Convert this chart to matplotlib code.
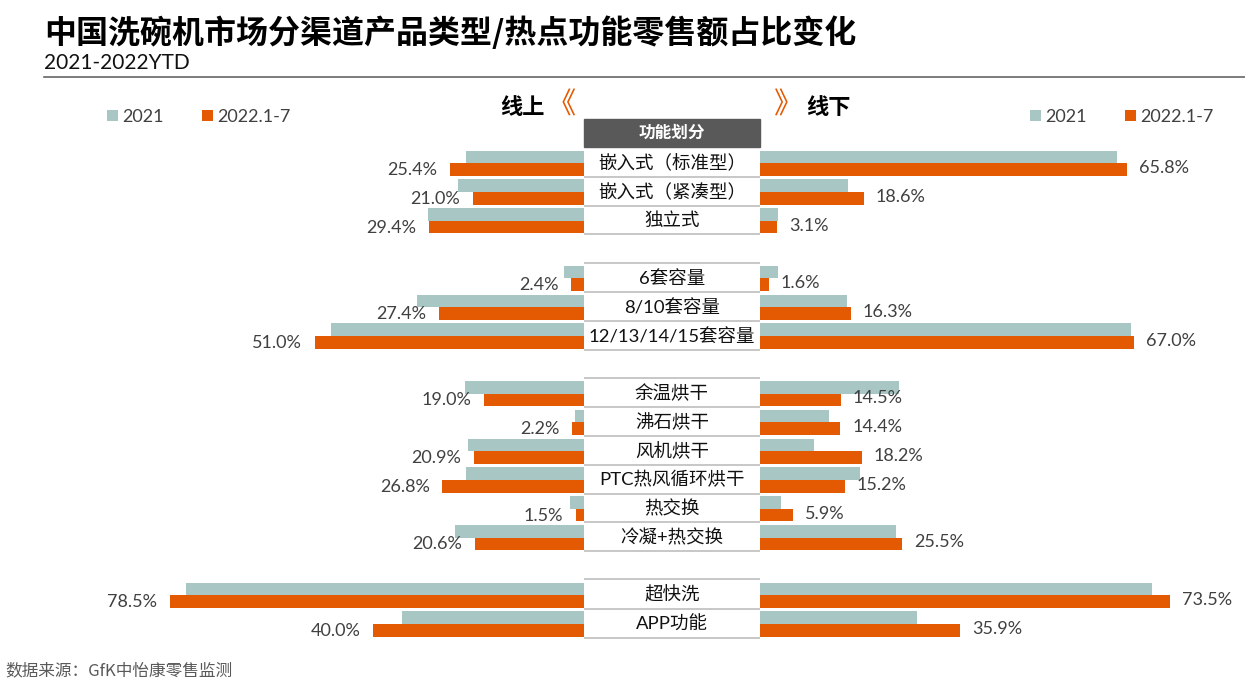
import matplotlib
matplotlib.use("Agg")
import matplotlib.pyplot as plt
from matplotlib.patches import Rectangle
import numpy as np

plt.rcParams['font.family'] = ['Lato', 'Noto Sans CJK SC', 'DejaVu Sans']

# data (2021 values)
categories = ['嵌入式（标准型）', '嵌入式（紧凑型）', '独立式',
              '6套容量', '8/10套容量', '12/13/14/15套容量',
              '余温烘干', '沸石烘干', '风机烘干', 'PTC热风循环烘干', '热交换', '冷凝+热交换',
              '超快洗', 'APP功能']
group_sizes = [3, 3, 6, 2]
online_2021 = [22.4, 23.8, 29.5, 3.7, 31.6, 47.9, 22.6, 1.7, 21.9, 22.3, 2.7, 24.4, 75.4, 34.5]
online_2022 = [25.4, 21.0, 29.4, 2.4, 27.4, 51.0, 19.0, 2.2, 20.9, 26.8, 1.5, 20.6, 78.5, 40.0]
offline_2021 = [64.0, 15.8, 3.2, 3.2, 15.6, 66.4, 24.9, 12.4, 9.6, 18.0, 3.8, 24.4, 70.3, 28.1]
offline_2022 = [65.8, 18.6, 3.1, 1.6, 16.3, 67.0, 14.5, 14.4, 18.2, 15.2, 5.9, 25.5, 73.5, 35.9]
series_names = ['2021', '2022.1-7']

GREY = '#A8C7C4'
ORANGE = '#E35A02'
TXT = '#404040'

# row positions with an empty row between groups
pos = []
group_tops = []
p = 0
for g in group_sizes:
    group_tops.append(p)
    pos.extend(range(p, p + g))
    p += g + 1
pos = np.array(pos, dtype=float)

W, H = 1245, 689
fig = plt.figure(figsize=(W / 100, H / 100), dpi=100)

# vertical mapping: row 0 centre at 163 px, 28.8 px per row
y_top_px, y_bot_px = 100, 660
ylim = ((y_bot_px - 163.2) / 28.8, (y_top_px - 163.2) / 28.8)
ax_b = 1 - y_bot_px / H
ax_h = (y_bot_px - y_top_px) / H

cx0, cx1 = 584, 760
ax_l = fig.add_axes([0, ax_b, cx0 / W, ax_h])
ax_m = fig.add_axes([cx0 / W, ax_b, (cx1 - cx0) / W, ax_h])
ax_r = fig.add_axes([cx1 / W, ax_b, (W - cx1) / W, ax_h])

ax_l.set_xlim(cx0 / 5.28, 0)
ax_r.set_xlim(0, (W - cx1) / 5.58)
ax_m.set_xlim(0, 1)
for ax in (ax_l, ax_m, ax_r):
    ax.set_ylim(*ylim)
    ax.axis('off')

bh = 0.435
off = bh / 2
b1 = ax_l.barh(pos - off, online_2021, height=bh, color=GREY, label=series_names[0])
b2 = ax_l.barh(pos + off, online_2022, height=bh, color=ORANGE, label=series_names[1])
ax_r.barh(pos - off, offline_2021, height=bh, color=GREY)
ax_r.barh(pos + off, offline_2022, height=bh, color=ORANGE)

for y, v in zip(pos, online_2022):
    ax_l.text(v + 2.4, y + off + 0.02, f'{v:.1f}%', ha='right', va='center',
              fontsize=13, color=TXT)
for y, v in zip(pos, offline_2022):
    ax_r.text(v + 2.1, y + off - 0.05, f'{v:.1f}%', ha='left', va='center',
              fontsize=13, color=TXT)

# centre column: category cells
for y, c in zip(pos, categories):
    ax_m.text(0.5, y, c, ha='center', va='center', fontsize=13.3, color='#111111')
    ax_m.plot([0, 1], [y + 0.47, y + 0.47], color='#BDBDBD', lw=1.2, solid_capstyle='butt')
for t in group_tops[1:]:
    ax_m.plot([0, 1], [t - 0.55, t - 0.55], color='#BDBDBD', lw=1.2, solid_capstyle='butt')
hdr_top, hdr_bot = (119 - 163.2) / 28.8, (147 - 163.2) / 28.8
ax_m.add_patch(Rectangle((0, hdr_bot), 1, hdr_top - hdr_bot, color='#595959', clip_on=False))
ax_m.text(0.5, (hdr_top + hdr_bot) / 2, '功能划分', ha='center', va='center',
          fontsize=12, color='white', fontweight='bold')

# titles
fig.text(44 / W, 1 - 33 / H, '中国洗碗机市场分渠道产品类型/热点功能零售额占比变化',
         fontsize=23, fontweight='heavy', ha='left', va='center', color='black',
         family=['Noto Sans CJK SC', 'DejaVu Sans'])
fig.text(44 / W, 1 - 63 / H, '2021-2022YTD', fontsize=15, ha='left', va='center', color='#111111')
fig.add_artist(plt.Line2D([44 / W, 1], [1 - 77 / H, 1 - 77 / H], color='#666666', lw=1.2))

fig.text(545 / W, 1 - 107 / H, '线上', fontsize=16, fontweight='bold', ha='right', va='center',
         family=['Noto Sans CJK SC'])
fig.text(547 / W, 1 - 105 / H, '《', fontsize=21, ha='left', va='center', color=ORANGE,
         family=['Noto Sans CJK SC'])
fig.text(803 / W, 1 - 105 / H, '》', fontsize=21, ha='right', va='center', color=ORANGE,
         family=['Noto Sans CJK SC'])
fig.text(806 / W, 1 - 107 / H, '线下', fontsize=16, fontweight='bold', ha='left', va='center',
         family=['Noto Sans CJK SC'])

# legends
leg_kw = dict(ncol=2, frameon=False, fontsize=13, handlelength=0.6, handleheight=0.6,
              handletextpad=0.25, columnspacing=2.1, borderpad=0, borderaxespad=0,
              labelcolor=TXT, loc='center left')
fig.legend([b1, b2], series_names, bbox_to_anchor=(107 / W, 1 - 117 / H), **leg_kw)
fig.legend([b1, b2], series_names, bbox_to_anchor=(1030 / W, 1 - 117 / H), **leg_kw)

fig.text(5 / W, 1 - 671 / H, '数据来源：GfK中怡康零售监测', fontsize=12, ha='left', va='center',
         color='#595959', family=['Noto Sans CJK SC', 'DejaVu Sans'])

fig.savefig('out.png', dpi=100)
